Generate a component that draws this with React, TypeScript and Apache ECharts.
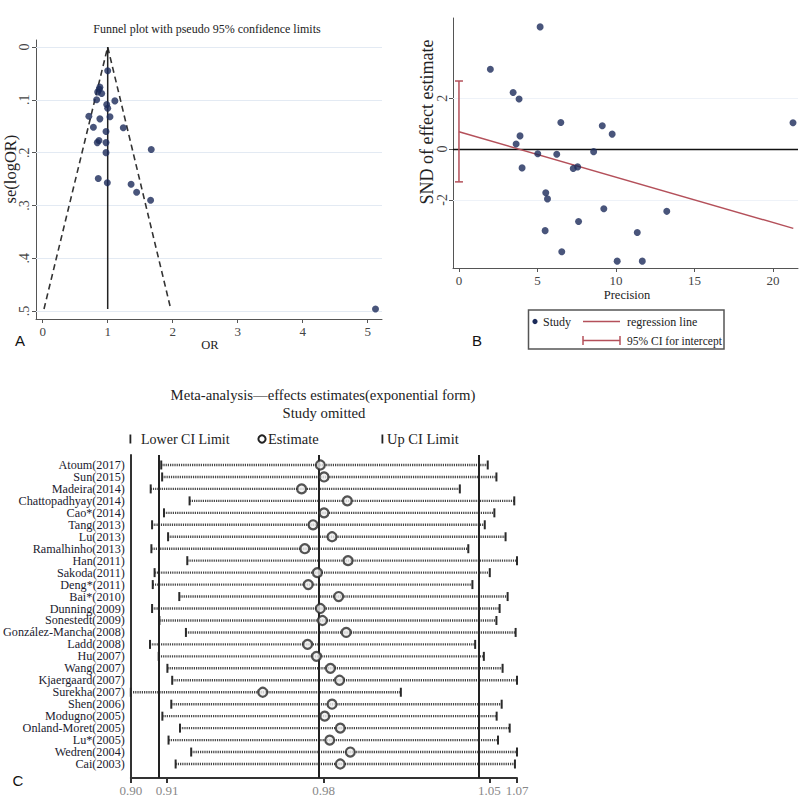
import React, { useEffect, useRef } from 'react';
import * as echarts from 'echarts';

// ---------- Panel A: funnel plot ----------
const funnelOR = [1.0, 0.88, 0.87, 0.846, 0.908, 0.83, 1.11, 0.985, 1.0, 0.71, 0.88, 1.035, 0.78, 1.24, 0.974, 0.84, 0.866, 0.974, 1.67, 0.974, 0.855, 0.994, 1.36, 1.445, 1.66, 5.12];
const funnelSE = [0.045, 0.076, 0.08, 0.085, 0.088, 0.1, 0.102, 0.109, 0.116, 0.131, 0.136, 0.132, 0.152, 0.153, 0.16, 0.181, 0.177, 0.181, 0.194, 0.2, 0.249, 0.257, 0.26, 0.275, 0.29, 0.496];
const funnelLimitOR = [0.02, 1, 1.97];
const funnelLimitSE = [0.496, 0, 0.496];
const funnelCenterOR = [1, 1];
const funnelCenterSE = [0, 0.496];
const funnelXTicks = [0, 1, 2, 3, 4, 5];
const funnelYTicks = [0, 0.1, 0.2, 0.3, 0.4, 0.5];

// ---------- Panel B: Galbraith / Egger plot ----------
const eggerPrecision = [5.17, 2.0, 3.45, 3.83, 6.49, 9.13, 9.76, 3.89, 3.64, 21.28, 5.02, 6.23, 8.58, 4.02, 7.28, 7.56, 5.53, 5.64, 9.23, 13.24, 7.62, 5.49, 11.36, 6.55, 10.08, 11.68];
const eggerSND = [4.81, 3.14, 2.23, 1.97, 1.05, 0.92, 0.59, 0.52, 0.2, 1.04, -0.18, -0.2, -0.1, -0.74, -0.76, -0.7, -1.72, -1.96, -2.35, -2.45, -2.85, -3.21, -3.28, -4.04, -4.41, -4.41];
const regLineX = [0, 21.3];
const regLineY = [0.68, -3.12];
const interceptCI = [-1.29, 2.68];
const eggerXTicks = [0, 5, 10, 15, 20];
const eggerYTicks = [-2, 0, 2];

// ---------- Panel C: sensitivity analysis ----------
const studies = ['Atoum(2017)', 'Sun(2015)', 'Madeira(2014)', 'Chattopadhyay(2014)', 'Cao*(2014)', 'Tang(2013)', 'Lu(2013)', 'Ramalhinho(2013)', 'Han(2011)', 'Sakoda(2011)', 'Deng*(2011)', 'Bai*(2010)', 'Dunning(2009)', 'Sonestedt(2009)', 'González-Mancha(2008)', 'Ladd(2008)', 'Hu(2007)', 'Wang(2007)', 'Kjaergaard(2007)', 'Surekha(2007)', 'Shen(2006)', 'Modugno(2005)', 'Onland-Moret(2005)', 'Lu*(2005)', 'Wedren(2004)', 'Cai(2003)'];
const lowerCI = [0.9110, 0.9114, 0.9064, 0.9234, 0.9122, 0.9070, 0.9140, 0.9067, 0.9224, 0.9081, 0.9073, 0.9189, 0.9070, 0.9102, 0.9218, 0.9061, 0.9099, 0.9137, 0.9158, 0.8977, 0.9154, 0.9115, 0.9192, 0.9142, 0.9241, 0.9173];
const estimate = [0.9806, 0.9822, 0.9724, 0.9924, 0.9822, 0.9774, 0.9857, 0.9738, 0.9927, 0.9793, 0.9753, 0.9886, 0.9806, 0.9815, 0.9919, 0.9750, 0.9789, 0.9850, 0.9890, 0.9554, 0.9857, 0.9825, 0.9893, 0.9847, 0.9937, 0.9893];
const upperCI = [1.0538, 1.0576, 1.0416, 1.0654, 1.0567, 1.0525, 1.0616, 1.0453, 1.0666, 1.0547, 1.0471, 1.0625, 1.0590, 1.0576, 1.0660, 1.0483, 1.0521, 1.0603, 1.0666, 1.0158, 1.0599, 1.0577, 1.0634, 1.0583, 1.0666, 1.0657];
const sensTicks = [0.8977, 0.9136, 0.982, 1.0545, 1.0666];
const sensRefLines = [0.9136, 0.982, 1.0545];

const SERIF = "'Liberation Serif', 'DejaVu Serif', serif";
const SANS = "'Liberation Sans', Arial, sans-serif";
const NAVY = '#1c2b5a';
const RED = '#b4505a';

function txt(text: string, x: number, y: number, size: number, opts: any = {}) {
  return {
    type: 'text',
    x, y,
    rotation: opts.rotation || 0,
    silent: true,
    z: 12,
    style: {
      text,
      fontSize: size,
      fontFamily: opts.family || SERIF,
      fill: opts.fill || '#222',
      align: opts.align || 'center',
      verticalAlign: 'middle',
    },
  };
}

export default function App() {
  const ref = useRef<HTMLDivElement>(null);
  useEffect(() => {
    if (!ref.current) return;
    const chart = echarts.init(ref.current, undefined, { renderer: 'svg' });

    const axisBase = (color: string, width: number) => ({
      axisLine: { show: true, onZero: false, lineStyle: { color, width } },
      splitLine: { show: false },
    });

    const option: any = {
      animation: false,
      backgroundColor: '#ffffff',
      textStyle: { fontFamily: SERIF },
      grid: [
        { left: 36, top: 40, width: 346, height: 279 },
        { left: 453, top: 18, width: 345, height: 250 },
        { left: 128, top: 455, width: 389, height: 323 },
      ],
      xAxis: [
        {
          gridIndex: 0, type: 'value', min: -0.103, max: 5.22,
          ...axisBase('#555', 1),
          axisTick: { show: true, length: 4, customValues: funnelXTicks, lineStyle: { color: '#555' } },
          axisLabel: { customValues: funnelXTicks, fontSize: 13, color: '#444', margin: 6, fontFamily: SERIF },
        },
        {
          gridIndex: 1, type: 'value', min: -0.38, max: 21.6,
          ...axisBase('#555', 1),
          axisTick: { show: true, length: 4, customValues: eggerXTicks, lineStyle: { color: '#555' } },
          axisLabel: { customValues: eggerXTicks, fontSize: 13, color: '#444', margin: 6, fontFamily: SERIF },
        },
        {
          gridIndex: 2, type: 'value', min: 0.8977, max: 1.0666,
          ...axisBase('#333', 2),
          axisTick: { show: true, length: 5, customValues: sensTicks, lineStyle: { color: '#333', width: 2 } },
          axisLabel: {
            customValues: sensTicks, fontSize: 13, color: '#888', margin: 6, fontFamily: SERIF,
            showMinLabel: true, showMaxLabel: true, hideOverlap: false,
            formatter: (v: number) => v.toFixed(2),
          },
        },
      ],
      yAxis: [
        {
          gridIndex: 0, type: 'value', inverse: true, min: -0.0133, max: 0.515,
          ...axisBase('#555', 1),
          axisTick: { show: true, length: 4, customValues: funnelYTicks, lineStyle: { color: '#555' } },
          axisLabel: {
            customValues: funnelYTicks, fontSize: 14, color: '#444', margin: 5, rotate: 90, fontFamily: SERIF,
            formatter: (v: number) => (v === 0 ? '0' : '.' + Math.round(v * 10)),
          },
        },
        {
          gridIndex: 1, type: 'value', min: -4.68, max: 5.16,
          ...axisBase('#555', 1),
          axisTick: { show: true, length: 4, customValues: eggerYTicks, lineStyle: { color: '#555' } },
          axisLabel: { customValues: eggerYTicks, fontSize: 14, color: '#444', margin: 4, rotate: 90, fontFamily: SERIF },
        },
        {
          gridIndex: 2, type: 'value', inverse: true, min: -0.835, max: 26.17,
          ...axisBase('#333', 2),
          axisTick: { show: false },
          axisLabel: {
            customValues: studies.map((_, i) => i), fontSize: 12.2, lineHeight: 10, color: '#1a1a2e', margin: 6, fontFamily: SERIF,
            showMinLabel: true, showMaxLabel: true, hideOverlap: false,
            formatter: (v: number) => studies[Math.round(v)] || '',
          },
        },
      ],
      series: [
        // Panel A grid lines
        {
          type: 'line', xAxisIndex: 0, yAxisIndex: 0, data: [], z: 1, silent: true,
          markLine: {
            silent: true, symbol: 'none', label: { show: false }, z: 1,
            lineStyle: { color: '#e3eaf3', width: 1, type: 'solid' },
            data: funnelYTicks.map((v) => ({ yAxis: v })),
          },
        },
        {
          type: 'line', xAxisIndex: 0, yAxisIndex: 0, z: 2, showSymbol: false, silent: true,
          data: funnelLimitOR.map((x, i) => [x, funnelLimitSE[i]]),
          lineStyle: { color: '#333', width: 1.6, type: [6, 4] },
        },
        {
          type: 'line', xAxisIndex: 0, yAxisIndex: 0, z: 2, showSymbol: false, silent: true,
          data: funnelCenterOR.map((x, i) => [x, funnelCenterSE[i]]),
          lineStyle: { color: '#222', width: 1.5 },
        },
        {
          type: 'scatter', xAxisIndex: 0, yAxisIndex: 0, z: 3, symbolSize: 7,
          itemStyle: { color: NAVY },
          data: funnelOR.map((x, i) => [x, funnelSE[i]]),
        },
        // Panel B
        {
          type: 'line', xAxisIndex: 1, yAxisIndex: 1, data: [], z: 1, silent: true,
          markLine: {
            silent: true, symbol: 'none', label: { show: false }, z: 1,
            data: [
              { yAxis: 2, lineStyle: { color: '#eef2f8', width: 1, type: 'solid' } },
              { yAxis: -2, lineStyle: { color: '#eef2f8', width: 1, type: 'solid' } },
              { yAxis: 0, lineStyle: { color: '#111', width: 1.3, type: 'solid' } },
            ],
          },
        },
        {
          type: 'line', xAxisIndex: 1, yAxisIndex: 1, z: 2, showSymbol: false, silent: true,
          data: regLineX.map((x, i) => [x, regLineY[i]]),
          lineStyle: { color: RED, width: 1.5 },
        },
        {
          type: 'custom', xAxisIndex: 1, yAxisIndex: 1, z: 2, silent: true,
          data: [[0, interceptCI[0], interceptCI[1]]],
          encode: { x: 0, y: [1, 2] },
          renderItem: (params: any, api: any) => {
            const a = api.coord([api.value(0), api.value(1)]);
            const b = api.coord([api.value(0), api.value(2)]);
            const st = { stroke: RED, lineWidth: 1.5 };
            return {
              type: 'group',
              children: [
                { type: 'line', shape: { x1: a[0], y1: a[1], x2: b[0], y2: b[1] }, style: st },
                { type: 'line', shape: { x1: a[0] - 4, y1: a[1], x2: a[0] + 4, y2: a[1] }, style: st },
                { type: 'line', shape: { x1: b[0] - 4, y1: b[1], x2: b[0] + 4, y2: b[1] }, style: st },
              ],
            };
          },
        },
        {
          type: 'scatter', xAxisIndex: 1, yAxisIndex: 1, z: 3, symbolSize: 7,
          itemStyle: { color: NAVY },
          data: eggerPrecision.map((x, i) => [x, eggerSND[i]]),
        },
        // Panel C
        {
          type: 'custom', xAxisIndex: 2, yAxisIndex: 2, z: 2, silent: true,
          data: studies.map((_, i) => [i, lowerCI[i], upperCI[i]]),
          encode: { y: 0, x: [1, 2] },
          renderItem: (params: any, api: any) => {
            const lo = api.coord([api.value(1), api.value(0)]);
            const hi = api.coord([api.value(2), api.value(0)]);
            const cap = { stroke: '#2a2a2a', lineWidth: 2 };
            return {
              type: 'group',
              children: [
                { type: 'line', shape: { x1: lo[0], y1: lo[1], x2: hi[0], y2: hi[1] }, style: { stroke: '#444', lineWidth: 2.4, lineDash: [1.2, 1] } },
                { type: 'line', shape: { x1: lo[0], y1: lo[1] - 4.5, x2: lo[0], y2: lo[1] + 4.5 }, style: cap },
                { type: 'line', shape: { x1: hi[0], y1: hi[1] - 4.5, x2: hi[0], y2: hi[1] + 4.5 }, style: cap },
              ],
            };
          },
          markLine: {
            silent: true, symbol: 'none', label: { show: false }, z: 3,
            lineStyle: { color: '#222', width: 2, type: 'solid' },
            data: sensRefLines.map((v) => ({ xAxis: v })),
          },
        },
        {
          type: 'scatter', xAxisIndex: 2, yAxisIndex: 2, z: 4, symbol: 'circle', symbolSize: 9,
          itemStyle: { color: '#eeeeee', borderColor: '#2a2a2a', borderWidth: 2.2 },
          data: studies.map((_, i) => [estimate[i], i]),
        },
      ],
      graphic: [
        // Panel A texts
        txt('Funnel plot with pseudo 95% confidence limits', 207, 29, 12),
        txt('se(logOR)', 10, 169, 16.5, { rotation: Math.PI / 2 }),
        txt('OR', 210, 345, 12.5),
        txt('A', 20, 340, 15, { family: SANS, fill: '#111' }),
        // Panel B texts
        txt('SND of effect estimate', 427, 122, 18, { rotation: Math.PI / 2 }),
        txt('Precision', 627, 295, 12.5),
        txt('B', 477, 340, 15, { family: SANS, fill: '#111' }),
        // Panel B legend
        { type: 'rect', shape: { x: 528.5, y: 310, width: 195.5, height: 39 }, style: { fill: '#fff', stroke: '#555', lineWidth: 1.5 }, silent: true, z: 10 },
        { type: 'circle', shape: { cx: 535, cy: 321.5, r: 2.6 }, style: { fill: NAVY }, silent: true, z: 11 },
        txt('Study', 543, 321.5, 12, { align: 'left' }),
        { type: 'line', shape: { x1: 583, y1: 321.5, x2: 620, y2: 321.5 }, style: { stroke: RED, lineWidth: 1.5 }, silent: true, z: 11 },
        txt('regression line', 627, 321.5, 12, { align: 'left' }),
        { type: 'line', shape: { x1: 583, y1: 340.5, x2: 620, y2: 340.5 }, style: { stroke: RED, lineWidth: 1.5 }, silent: true, z: 11 },
        { type: 'line', shape: { x1: 583, y1: 336, x2: 583, y2: 345 }, style: { stroke: RED, lineWidth: 1.5 }, silent: true, z: 11 },
        { type: 'line', shape: { x1: 620, y1: 336, x2: 620, y2: 345 }, style: { stroke: RED, lineWidth: 1.5 }, silent: true, z: 11 },
        txt('95% CI for intercept', 627, 340.5, 11.5, { align: 'left' }),
        // Panel C texts
        txt('Meta-analysis\u2014effects estimates(exponential form)', 323, 395, 14.7),
        txt('Study omitted', 324, 413, 14.7),
        { type: 'rect', shape: { x: 129.5, y: 434.5, width: 1.8, height: 9 }, style: { fill: '#222' }, silent: true },
        txt('Lower CI Limit', 141, 439, 14, { align: 'left' }),
        { type: 'circle', shape: { cx: 262, cy: 439, r: 3.6 }, style: { fill: '#fff', stroke: '#222', lineWidth: 2 }, silent: true },
        txt('Estimate', 268, 439, 14.5, { align: 'left' }),
        { type: 'rect', shape: { x: 381.5, y: 434.5, width: 1.8, height: 9 }, style: { fill: '#222' }, silent: true },
        txt('Up CI Limit', 387, 439, 14.5, { align: 'left' }),
        txt('C', 18, 780, 15, { family: SANS, fill: '#111' }),
      ],
    };

    chart.setOption(option);
    return () => chart.dispose();
  }, []);

  return (
    <div
      ref={ref}
      style={{ position: 'fixed', left: 0, top: 0, width: 800, height: 799, background: '#fff' }}
    />
  );
}
